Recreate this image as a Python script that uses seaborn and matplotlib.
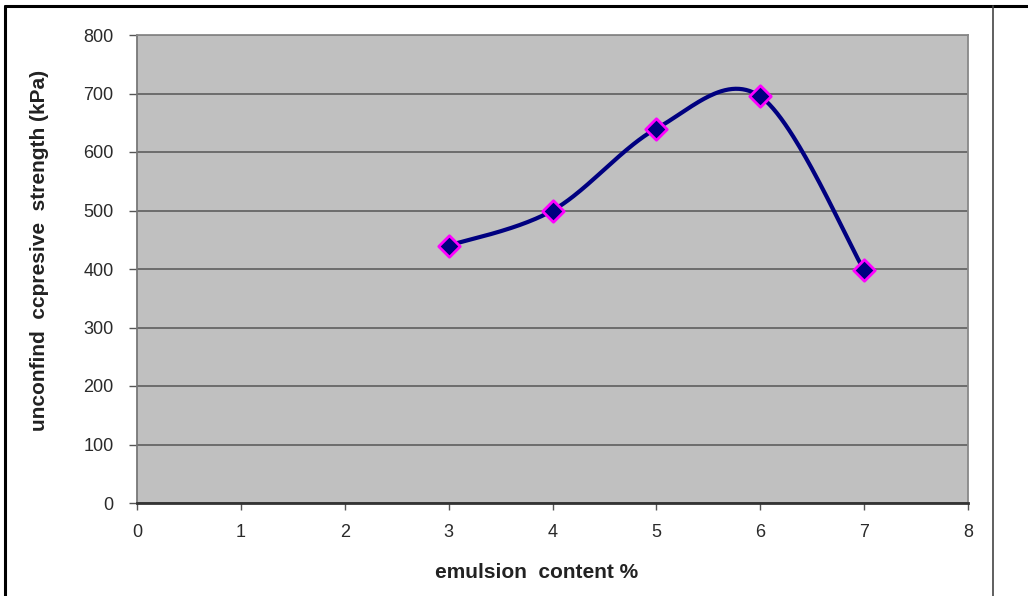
import numpy as np
import pandas as pd
import matplotlib
matplotlib.use("Agg")
import matplotlib.pyplot as plt
import seaborn as sns
from matplotlib.lines import Line2D

emulsion = [3, 4, 5, 6, 7]
strength = [440, 500, 640, 695, 398]
x_ticks = [0, 1, 2, 3, 4, 5, 6, 7, 8]
y_ticks = [0, 100, 200, 300, 400, 500, 600, 700, 800]
x_label = "emulsion  content %"
y_label = "unconfind  ccpresive  strength (kPa)"


def smooth(xs, ys, n=60):
    # Catmull-Rom style smoothing of the line (as a spreadsheet "smoothed line")
    xs = np.asarray(xs, float)
    ys = np.asarray(ys, float)
    px = np.concatenate([[xs[0]], xs, [xs[-1]]])
    py = np.concatenate([[ys[0]], ys, [ys[-1]]])
    ox, oy = [], []
    for i in range(1, len(px) - 2):
        p0 = np.array([px[i - 1], py[i - 1]])
        p1 = np.array([px[i], py[i]])
        p2 = np.array([px[i + 1], py[i + 1]])
        p3 = np.array([px[i + 2], py[i + 2]])
        c1 = p1 + (p2 - p0) / 6.0
        c2 = p2 - (p3 - p1) / 6.0
        t = np.linspace(0, 1, n)[:, None]
        b = ((1 - t) ** 3) * p1 + 3 * ((1 - t) ** 2) * t * c1 + 3 * (1 - t) * t ** 2 * c2 + t ** 3 * p2
        ox.extend(b[:, 0])
        oy.extend(b[:, 1])
    return np.array(ox), np.array(oy)


sns.set_theme(style="white")
plt.rcParams["font.family"] = ["Liberation Sans", "DejaVu Sans"]

fig = plt.figure(figsize=(10.28, 5.96), dpi=100)
ax = fig.add_axes([137 / 1028, 1 - 503 / 596, (968 - 137) / 1028, (503 - 35) / 596])
ax.set_facecolor("#c0c0c0")

sx, sy = smooth(emulsion, strength)
curve = pd.DataFrame({"x": sx, "y": sy})
pts = pd.DataFrame({"x": emulsion, "y": strength})

sns.lineplot(data=curve, x="x", y="y", ax=ax, color="#000080", linewidth=3.0, sort=False, zorder=3)
sns.scatterplot(data=pts, x="x", y="y", ax=ax, marker="D", s=120, color="#000080",
                edgecolor="#ff00ff", linewidth=2.0, zorder=4)

ax.set_xlim(0, 8)
ax.set_ylim(0, 800)
ax.set_xticks(x_ticks)
ax.set_yticks(y_ticks)
ax.set_xticklabels([str(v) for v in x_ticks], fontsize=13, color="#2a2a2a")
ax.set_yticklabels([str(v) for v in y_ticks], fontsize=13, color="#2a2a2a")
ax.yaxis.grid(True, color="#666666", linewidth=1.3)
ax.xaxis.grid(False)
ax.set_axisbelow(True)
ax.tick_params(axis="y", which="both", direction="out", length=6, width=1,
               color="#555555", left=True, pad=11)
ax.tick_params(axis="x", which="both", direction="out", length=5, width=1,
               color="#555555", bottom=True, pad=10)

for side in ["top", "right"]:
    ax.spines[side].set_color("#888888")
    ax.spines[side].set_linewidth(1.3)
ax.spines["left"].set_color("#777777")
ax.spines["left"].set_linewidth(1.3)
ax.spines["bottom"].set_color("#333333")
ax.spines["bottom"].set_linewidth(2.0)

ax.set_xlabel("")
ax.set_ylabel("")
fig.text(537 / 1028, 1 - 572 / 596, x_label, fontsize=15, fontweight="bold", color="#222222",
         ha="center", va="center")
fig.text(40 / 1028, 1 - 250 / 596, y_label, fontsize=15, fontweight="bold", color="#222222",
         ha="center", va="center", rotation=90)

# outer frame
fig.add_artist(Line2D([5 / 1028, 5 / 1028], [0, 1 - 6 / 596], transform=fig.transFigure,
                      color="black", linewidth=2.2))
fig.add_artist(Line2D([5 / 1028, 1], [1 - 6 / 596, 1 - 6 / 596], transform=fig.transFigure,
                      color="black", linewidth=2.2))
fig.add_artist(Line2D([993 / 1028, 993 / 1028], [0, 1 - 6 / 596], transform=fig.transFigure,
                      color="#444444", linewidth=1.2))

fig.savefig("out.png", dpi=100, facecolor="white")
